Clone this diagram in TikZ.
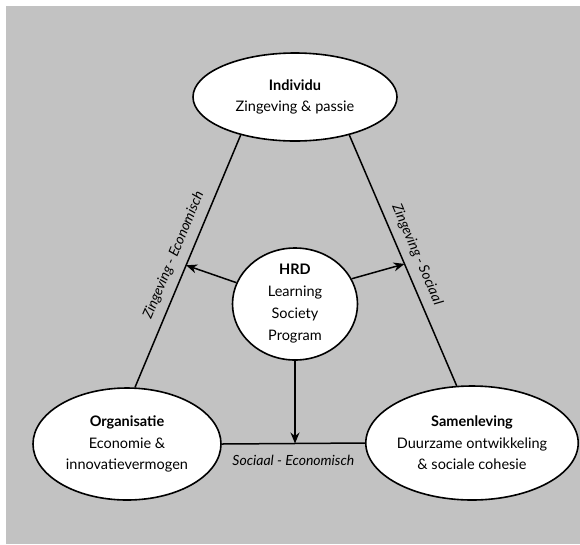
\documentclass[tikz,border=0pt]{standalone}
\usepackage{fontspec}
\setmainfont{Lato}
\usetikzlibrary{shapes.geometric,arrows.meta}
\begin{document}
\begin{tikzpicture}[x=1pt,y=1pt,
  bubble/.style={ellipse,draw=black,line width=1.6pt,fill=white,align=center,inner sep=0pt,
    font=\fontsize{14.5}{21.5}\selectfont},
  link/.style={line width=1.5pt},
  arr/.style={line width=1.5pt,-{Stealth[length=11pt,width=9pt]}},
  lbl/.style={font=\fontsize{14}{16}\selectfont\itshape,inner sep=8pt}]
\useasboundingbox (0,0) rectangle (580,-544);
\fill[black!24] (6,-6) rectangle (580,-544);
\node[bubble,minimum width=204pt,minimum height=88pt] (ind) at (295,-97) {\textbf{Individu}\\Zingeving \& passie};
\node[bubble,minimum width=188pt,minimum height=112pt] (org) at (127,-444) {\textbf{Organisatie}\\Economie \&\\innovatievermogen};
\node[bubble,minimum width=202pt,minimum height=114pt] (sam) at (472,-443) {\textbf{Samenleving}\\Duurzame ontwikkeling\\\& sociale cohesie};
\node[bubble,minimum width=125pt,minimum height=112pt,font=\fontsize{14.5}{22}\selectfont] (hrd) at (295,-304) {\textbf{HRD}\\Learning\\Society\\Program};
\draw[link] (org.82) -- (ind.215) node[midway,sloped,above,lbl] {Zingeving - Economisch} coordinate[pos=0.484] (tl);
\draw[link] (ind.325) -- (sam.105) node[midway,sloped,above,lbl] {Zingeving - Sociaal} coordinate[pos=0.514] (tr);
\draw[link] (org.east) -- (sam.west) node[midway,below,lbl,inner sep=11pt] {Sociaal - Economisch} coordinate[midway] (tb);
\draw[arr] (hrd.160) -- (tl);
\draw[arr] (hrd.24) -- (tr);
\draw[arr] (hrd.south) -- (hrd.south |- tb);
\end{tikzpicture}
\end{document}
